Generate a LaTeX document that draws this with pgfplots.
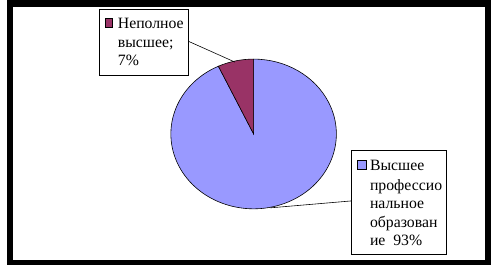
\documentclass[border=0pt]{standalone}
\usepackage{pgfplots}
\usepackage{pgfplotstable}
\pgfplotsset{compat=1.18}
\usepackage{fontspec}
\setmainfont{Liberation Serif}
\definecolor{pieblue}{HTML}{9999FF}
\definecolor{piemaroon}{HTML}{993366}

\pgfplotstableread{
label value
Incomplete 7
Higher 93
}\piedata

\begin{document}
\pgfplotstablegetelem{0}{value}\of\piedata \let\vInc\pgfplotsretval
\pgfplotstablegetelem{1}{value}\of\piedata \let\vHigh\pgfplotsretval
\pgfmathsetmacro{\aStart}{90}
\pgfmathsetmacro{\aMid}{90+3.6*\vInc}
\pgfmathsetmacro{\aEnd}{\aMid+3.6*\vHigh}
\begin{tikzpicture}
\fill[black] (0,0) rectangle (491bp,269bp);
\fill[white] (6bp,5bp) rectangle (485bp,262bp);
\begin{axis}[
  at={(0,0)}, anchor=origin,
  scale only axis, width=491bp, height=269bp,
  xmin=0, xmax=491, ymin=0, ymax=269,
  hide axis, clip=false,
]
% pie slices
\filldraw[fill=pieblue, draw=black, line width=0.6bp]
  (axis cs:250,133) -- ++(\aMid:84bp and 76bp)
  arc[start angle=\aMid, end angle=\aEnd, x radius=84bp, y radius=76bp] -- cycle;
\filldraw[fill=piemaroon, draw=black, line width=0.6bp]
  (axis cs:250,133) -- ++(\aStart:84bp and 76bp)
  arc[start angle=\aStart, end angle=\aMid, x radius=84bp, y radius=76bp] -- cycle;
% leader lines
\draw[black, line width=0.6bp] (axis cs:184,227) -- (axis cs:231,206);
\draw[black, line width=0.6bp] (axis cs:349,65) -- (axis cs:267,58);
% label box 1
\draw[black, line width=0.7bp, fill=white] (axis cs:93,193) rectangle (axis cs:184,260);
\filldraw[fill=piemaroon, draw=black, line width=0.6bp] (axis cs:99,241) rectangle (axis cs:107,250);
\begin{scope}[every node/.style={anchor=base west, inner sep=0pt, font=\fontsize{16bp}{19bp}\selectfont}]
\node at (axis cs:112,240) {Неполное};
\node at (axis cs:112,221) {высшее;};
\node at (axis cs:112,202) {7\%};
\end{scope}
% label box 2
\draw[black, line width=0.7bp, fill=white] (axis cs:349,11) rectangle (axis cs:446,116);
\filldraw[fill=pieblue, draw=black, line width=0.6bp] (axis cs:355,97) rectangle (axis cs:364,106);
\begin{scope}[every node/.style={anchor=base west, inner sep=0pt, font=\fontsize{16bp}{19bp}\selectfont}]
\node at (axis cs:368,96) {Высшее};
\node at (axis cs:368,76) {профессио};
\node at (axis cs:368,57) {нальное};
\node at (axis cs:368,38) {образован};
\node at (axis cs:368,20) {ие\ \ 93\%};
\end{scope}
\end{axis}
\pgfresetboundingbox
\useasboundingbox (0,0) rectangle (491bp,269bp);
\end{tikzpicture}
\end{document}
